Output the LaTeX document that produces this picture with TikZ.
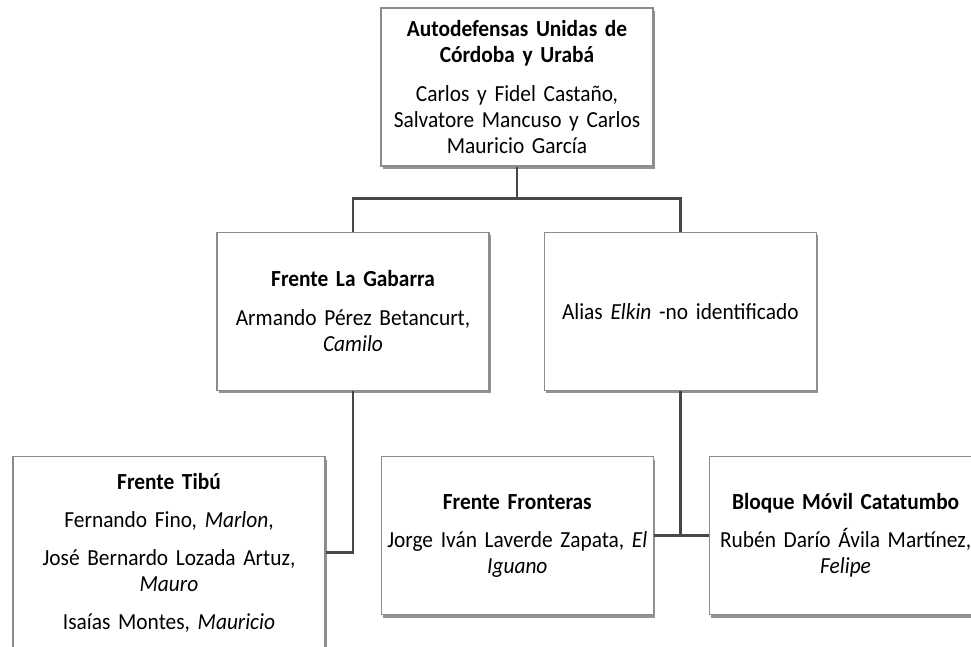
\documentclass[tikz,border=0pt]{standalone}
\usepackage{fontspec}
\setmainfont{Carlito}[FakeStretch=0.93]
\usetikzlibrary{positioning,shadows,calc}

\begin{document}
\begin{tikzpicture}[x=1pt,y=-1pt,node distance=65pt,
  unit/.style={draw=black!45,line width=1.3pt,fill=white,align=center,
    text width=272pt,minimum height=158pt,inner sep=0pt,
    font=\fontsize{23}{26}\selectfont,text=black,
    drop shadow={shadow xshift=1.5pt,shadow yshift=-3pt,fill=black!70,opacity=.6}},
  link/.style={draw=black!72,line width=2.5pt}]
  \useasboundingbox[fill=white] (0,0) rectangle (971,646);
  \node[unit] (auc) at (517,87) {\textbf{Autodefensas Unidas de}\\\textbf{Córdoba y Urabá}\\[13pt]Carlos y Fidel Castaño,\\Salvatore Mancuso y Carlos\\Mauricio García};
  \node[unit] (gabarra) [below=of auc, xshift=-164pt] {\textbf{Frente La Gabarra}\\[13pt]Armando Pérez Betancurt,\\\textit{Camilo}};
  \node[unit] (elkin) [right=54pt of gabarra] {Alias \textit{Elkin} -no identificado};
  \node[unit,text width=312pt,minimum height=192pt] (tibu) [below=of gabarra, xshift=-184pt] {\textbf{Frente Tibú}\\[12pt]Fernando Fino, \textit{Marlon},\\[12pt]José Bernardo Lozada Artuz,\\\textit{Mauro}\\[12pt]Isaías Montes, \textit{Mauricio}};
  \node[unit] (fronteras) [right=55pt of tibu.north east, anchor=north west] {\textbf{Frente Fronteras}\\[12pt]Jorge Iván Laverde Zapata, \textit{El}\\\textit{Iguano}};
  \node[unit] (catatumbo) [right=55pt of fronteras] {\textbf{Bloque Móvil Catatumbo}\\[12pt]Rubén Darío Ávila Martínez,\\\textit{Felipe}};

  \coordinate (fork) at ($(auc.south)+(0,32)$);
  \draw[link] (auc.south) -- (fork);
  \draw[link] (gabarra.north) |- (fork) -| (elkin.north);
  \draw[link] (gabarra.south) |- (tibu.east);
  \draw[link] (elkin.south) -- (elkin.south |- fronteras.east);
  \draw[link] (fronteras.east) -- (catatumbo.west);
\end{tikzpicture}
\end{document}
